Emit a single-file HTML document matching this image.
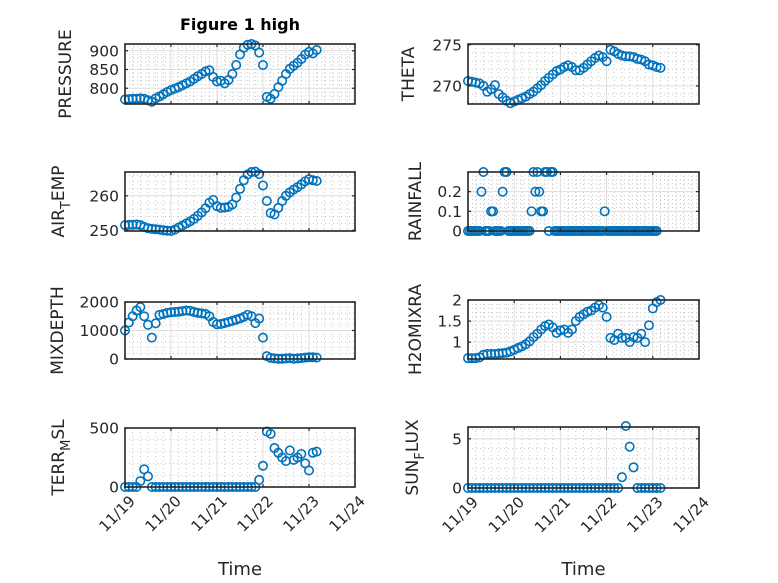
<!DOCTYPE html>
<html><head><meta charset="utf-8"><style>
html,body{margin:0;padding:0;background:#fff;}
svg{display:block;font-family:"DejaVu Sans","Liberation Sans",sans-serif;}
</style></head><body>
<svg id="fig" width="778" height="583" viewBox="0 0 778 583" xmlns="http://www.w3.org/2000/svg">
<rect x="0" y="0" width="778" height="583" fill="#fff"/>
<text x="240" y="30" text-anchor="middle" font-size="16" font-weight="bold" fill="#000">Figure 1 high</text>
</svg>
<script>
// time axis: hours since 11/19 00:00 (2-hour sampling)
const hours2 = [0,2,4,6,8,10,12,14,16,18,20,22,24,26,28,30,32,34,36,38,40,42,44,46,48,50,52,54,56,58,60,62,64,66,68,70,72,74,76,78,80,82,84,86,88,90,92,94,96,98,100];
const xTickLabels = ["11/19","11/20","11/21","11/22","11/23","11/24"];
const pressureValues = [770,771,772,772,773,772,768,764,773,778,784,790,795,799,803,808,813,818,825,832,838,845,848,830,818,820,813,822,838,862,890,908,916,918,914,895,862,777,772,785,803,820,838,852,860,868,878,890,897,893,902];
const thetaValues = [270.6,270.5,270.4,270.3,270.0,269.3,269.6,270.1,269.0,268.6,268.2,267.9,268.1,268.3,268.5,268.7,269.0,269.3,269.7,270.1,270.6,271.0,271.4,271.8,272.0,272.3,272.5,272.3,271.9,271.9,272.2,272.6,273.0,273.4,273.7,273.5,273.0,274.4,274.2,273.9,273.7,273.6,273.6,273.5,273.3,273.2,273.0,272.6,272.5,272.3,272.2];
const airTempValues = [251.5,251.6,251.6,251.7,251.5,251.0,250.6,250.4,250.3,250.2,250.0,249.9,249.8,250.2,250.8,251.4,252.0,252.6,253.3,254.2,255.2,256.4,258.0,258.8,257.0,256.5,256.6,256.8,257.5,259.5,262.0,264.5,266.2,266.9,267.0,266.3,263.0,258.5,255.0,254.6,256.5,258.5,260.0,261.0,261.8,262.5,263.3,264.2,264.8,264.5,264.3];
// rainfall hourly, hours 0..98
const rainValues = [0,0,0,0,0,0,0,0.2,0.3,0,0,0,0.1,0.1,0,0,0,0,0.2,0.3,0.3,0,0,0,0,0,0,0,0,0,0,0,0,0.1,0.3,0.2,0.3,0.2,0.1,0.1,0.3,0.3,0,0.3,0.3,0,0,0,0,0,0,0,0,0,0,0,0,0,0,0,0,0,0,0,0,0,0,0,0,0,0,0.1,0,0,0,0,0,0,0,0,0,0,0,0,0,0,0,0,0,0,0,0,0,0,0,0,0,0,0];
const mixDepthValues = [1000,1280,1500,1700,1820,1500,1200,750,1250,1550,1580,1620,1640,1650,1660,1680,1700,1690,1650,1620,1600,1580,1500,1300,1220,1230,1260,1300,1340,1380,1420,1480,1550,1500,1260,1420,750,100,40,20,10,10,20,30,10,20,30,50,60,60,50];
const h2oValues = [0.62,0.62,0.62,0.64,0.7,0.72,0.72,0.72,0.73,0.74,0.75,0.78,0.82,0.86,0.9,0.95,1.02,1.12,1.2,1.3,1.38,1.42,1.35,1.22,1.28,1.3,1.22,1.3,1.5,1.6,1.66,1.72,1.75,1.82,1.88,1.82,1.6,1.1,1.05,1.2,1.1,1.1,1.0,1.12,1.1,1.2,1.0,1.4,1.8,1.95,2.0];
const terrValues = [0,0,0,0,50,150,90,0,0,0,0,0,0,0,0,0,0,0,0,0,0,0,0,0,0,0,0,0,0,0,0,0,0,0,0,60,180,470,450,330,290,250,220,310,230,250,280,200,140,290,300];
const sunValues = [0,0,0,0,0,0,0,0,0,0,0,0,0,0,0,0,0,0,0,0,0,0,0,0,0,0,0,0,0,0,0,0,0,0,0,0,0,0,0,0,1.1,6.3,4.2,2.1,0,0,0,0,0,0,0];
const rainHours = rainValues.map((v,i)=>i);

const NS="http://www.w3.org/2000/svg";
const svg=document.getElementById('fig');
function mk(tag,attrs,parent){const e=document.createElementNS(NS,tag);for(const k in attrs)e.setAttribute(k,attrs[k]);(parent||svg).appendChild(e);return e;}

const panels=[
 {name:"pressure",label:["PRESSURE"],x0:125,x1:355,y0:44,y1:104,ymin:758,ymax:918,ticks:[800,850,900],minor:10,t:hours2,v:pressureValues,lx:71},
 {name:"theta",label:["THETA"],x0:468,x1:699,y0:44,y1:104,ymin:267.8,ymax:275.1,ticks:[270,275],minor:1,t:hours2,v:thetaValues,lx:414},
 {name:"air-temp",label:["AIR","T","EMP"],x0:125,x1:355,y0:172,y1:231,ymin:249.8,ymax:266.9,ticks:[250,260],minor:2,t:hours2,v:airTempValues,lx:64},
 {name:"rainfall",label:["RAINFALL"],x0:468,x1:699,y0:172,y1:231,ymin:0,ymax:0.3,ticks:[0,0.1,0.2],minor:0.02,t:rainHours,v:rainValues,lx:421},
 {name:"mixdepth",label:["MIXDEPTH"],x0:125,x1:355,y0:302,y1:359,ymin:0,ymax:2000,ticks:[0,1000,2000],minor:200,t:hours2,v:mixDepthValues,lx:63},
 {name:"h2omixra",label:["H2OMIXRA"],x0:468,x1:699,y0:300,y1:359,ymin:0.6,ymax:2.0,ticks:[1,1.5,2],minor:0.1,t:hours2,v:h2oValues,lx:421},
 {name:"terr-msl",label:["TERR","M","SL"],x0:125,x1:355,y0:428,y1:487,ymin:0,ymax:500,ticks:[0,500],minor:100,t:hours2,v:terrValues,lx:64,xt:true},
 {name:"sun-flux",label:["SUN","F","LUX"],x0:468,x1:699,y0:427,y1:488,ymin:0,ymax:6.2,ticks:[0,5],minor:1,t:hours2,v:sunValues,lx:418,xt:true}
];

panels.forEach(p=>{
  const g=mk('g',{});
  
  
  const X=h=>p.x0+(h/120)*(p.x1-p.x0);
  const Y=v=>p.y1-(v-p.ymin)/(p.ymax-p.ymin)*(p.y1-p.y0);
  for(let h=4;h<120;h+=4){ if(h%24===0)continue;
    mk('line',{x1:X(h),x2:X(h),y1:p.y0,y2:p.y1,stroke:'#c8c8c8','stroke-width':1,'stroke-dasharray':'1 3'},g);}
  const start=Math.ceil(p.ymin/p.minor-1e-6);
  for(let k=start;k*p.minor<=p.ymax+1e-9;k++){const v=k*p.minor; if(p.ticks.some(t=>Math.abs(t-v)<1e-9))continue;
    mk('line',{x1:p.x0,x2:p.x1,y1:Y(v),y2:Y(v),stroke:'#c8c8c8','stroke-width':1,'stroke-dasharray':'1 3'},g);}
  for(let d=1;d<5;d++) mk('line',{x1:X(d*24),x2:X(d*24),y1:p.y0,y2:p.y1,stroke:'#dedede','stroke-width':1},g);
  p.ticks.forEach(t=>{ mk('line',{x1:p.x0,x2:p.x1,y1:Y(t),y2:Y(t),stroke:'#dedede','stroke-width':1},g);});
  p.t.forEach((h,i)=>{
    const c=mk('circle',{cx:X(h),cy:Y(p.v[i]),r:4.2,fill:'none',stroke:'#0072BD','stroke-width':1.6},g);
    
    
  });
  mk('rect',{x:p.x0,y:p.y0,width:p.x1-p.x0,height:p.y1-p.y0,fill:'none',stroke:'#262626','stroke-width':1.6},g);
  xTickLabels.forEach((lab,d)=>{
    const x=X(d*24);
    mk('line',{x1:x,x2:x,y1:p.y1,y2:p.y1-3,stroke:'#262626','stroke-width':1.2},g);
    mk('line',{x1:x,x2:x,y1:p.y0,y2:p.y0+3,stroke:'#262626','stroke-width':1.2},g);
    if(p.xt){
      const ax=x+11, ay=p.y1+15;
      const tx=mk('text',{x:ax,y:ay,'text-anchor':'end','font-size':15,fill:'#262626',transform:`rotate(-45 ${ax} ${ay})`},g);
      tx.textContent=lab;
      
      
    }
  });
  p.ticks.forEach(t=>{
    const y=Y(t);
    mk('line',{x1:p.x0,x2:p.x0+3,y1:y,y2:y,stroke:'#262626','stroke-width':1.2},g);
    mk('line',{x1:p.x1,x2:p.x1-3,y1:y,y2:y,stroke:'#262626','stroke-width':1.2},g);
    const tx=mk('text',{x:p.x0-6,y:y+5.5,'text-anchor':'end','font-size':15.5,fill:'#262626'},g);
    tx.textContent=String(t);
    
    
  });
  const yc=(p.y0+p.y1)/2;
  const lt=mk('text',{x:p.lx,y:yc,'text-anchor':'middle','font-size':17,fill:'#262626',transform:`rotate(-90 ${p.lx} ${yc})`},g);
  
  
  if(p.label.length===1){lt.textContent=p.label[0];}
  else{
    const a=mk('tspan',{},lt);a.textContent=p.label[0];
    const b=mk('tspan',{dy:6,'font-size':13},lt);b.textContent=p.label[1];
    const c=mk('tspan',{dy:-6},lt);c.textContent=p.label[2];
  }
  if(p.xt){
    const tt=mk('text',{x:(p.x0+p.x1)/2,y:575,'text-anchor':'middle','font-size':18,fill:'#262626'},g);
    tt.textContent='Time';
    
    
  }
});
</script>
</body></html>
